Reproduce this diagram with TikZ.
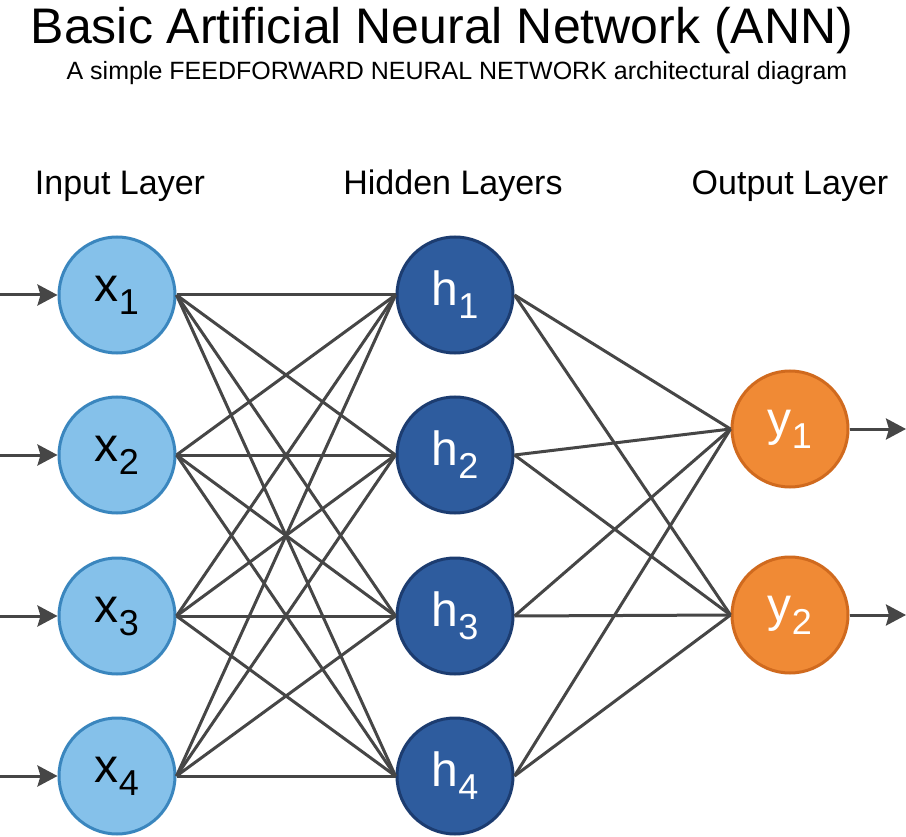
\documentclass[tikz,border=0pt]{standalone}
\usepackage{fontspec}
\setmainfont{Liberation Sans}
\usetikzlibrary{arrows.meta}

\definecolor{infill}{RGB}{133,193,234}
\definecolor{inrim}{RGB}{58,134,190}
\definecolor{hidfill}{RGB}{46,92,158}
\definecolor{hidrim}{RGB}{28,60,112}
\definecolor{outfill}{RGB}{240,138,53}
\definecolor{outrim}{RGB}{208,106,30}
\definecolor{wire}{RGB}{70,70,70}

\tikzset{
  neuron/.style={circle,minimum size=116pt,inner sep=0pt,line width=3pt,
    font=\fontsize{48}{48}\selectfont},
  inneuron/.style={neuron,draw=inrim,fill=infill,text=black},
  hidneuron/.style={neuron,draw=hidrim,fill=hidfill,text=white},
  outneuron/.style={neuron,draw=outrim,fill=outfill,text=white},
  link/.style={draw=wire,line width=3pt},
  signal/.style={link,-{Stealth[length=20pt,width=21pt,inset=3pt]}},
  layername/.style={font=\fontsize{34}{34}\selectfont}
}
\newcommand{\nlab}[2]{#1\raisebox{-13pt}{\fontsize{36}{36}\selectfont #2}}

\begin{document}
\begin{tikzpicture}[x=1pt,y=-1pt]
\useasboundingbox[fill=white] (0,0) rectangle (906,837);
 % titles:
\node[font=\fontsize{50}{50}\selectfont] (title) at (442,31) {Basic Artificial Neural Network (ANN)};
\node[font=\fontsize{25}{25}\selectfont] (subtitle) at (457,73) {A simple FEEDFORWARD NEURAL NETWORK architectural diagram};
\node[layername] (inname) at (120,186) {Input Layer};
\node[layername] (hidname) at (453,186) {Hidden Layers};
\node[layername] (outname) at (790,186) {Output Layer};
 % input and hidden layers:
\foreach \i/\yy in {1/295,2/455,3/616,4/776} {
  \node[inneuron] (x\i) at (117,\yy) {\nlab{x}{\i}};
  \node[hidneuron] (h\i) at (455,\yy) {\nlab{h}{\i}};
  \coordinate (in\i) at (0,\yy);
  \draw[signal] (in\i) -- (x\i.west);
}
 % output layer:
\foreach \k/\yy in {1/429,2/615} {
  \node[outneuron] (y\k) at (790,\yy) {\nlab{y}{\k}};
  \coordinate (out\k) at (906,\yy);
  \draw[signal] (y\k.east) -- (out\k);
}
 % weights:
\foreach \i in {1,...,4} {
  \foreach \j in {1,...,4}
    \draw[link] (x\i.east) -- (h\j.west);
  \foreach \k in {1,2}
    \draw[link] (h\i.east) -- (y\k.west);
}
\end{tikzpicture}
\end{document}
